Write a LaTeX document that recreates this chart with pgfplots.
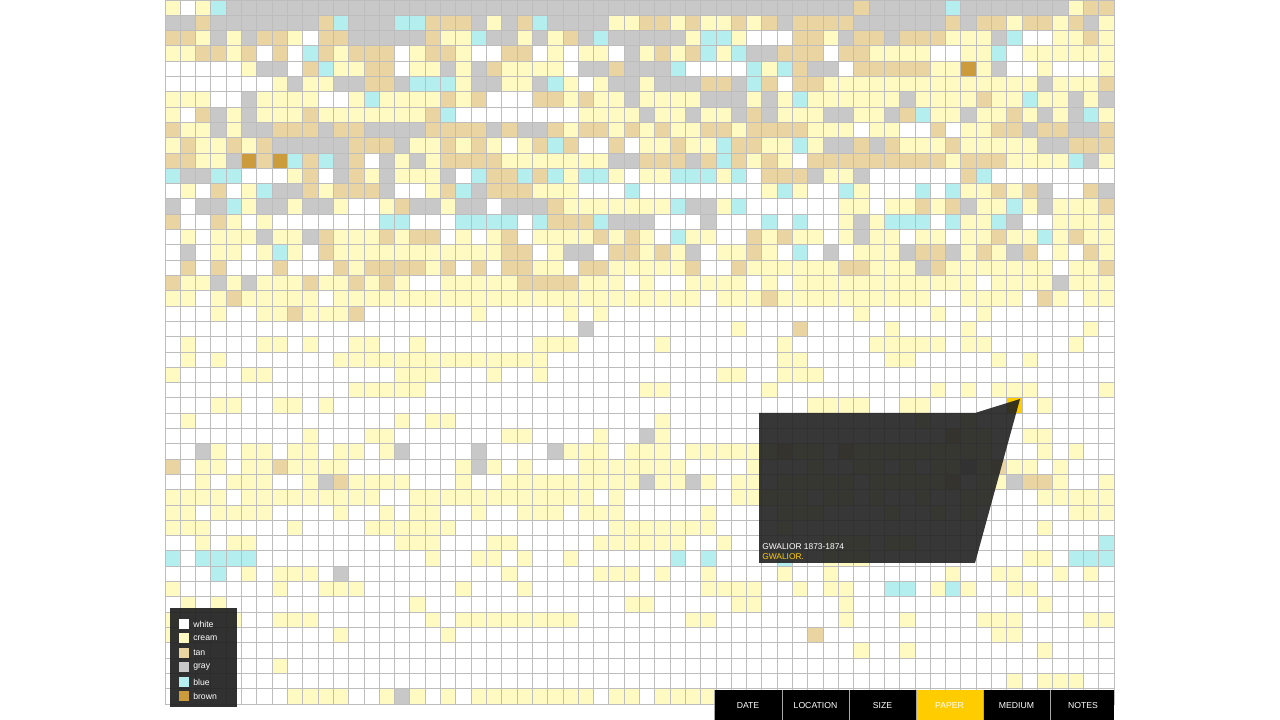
\documentclass[border=0pt]{standalone}
\usepackage{pgfplots}
\pgfplotsset{compat=1.18}
\usepackage{pgfplotstable}
\usepackage{fontspec}
\setmainfont{Liberation Sans}
\definecolor{cwhite}{HTML}{FFFFFF}
\definecolor{ccream}{HTML}{FFF9C2}
\definecolor{ctan}{HTML}{EAD4A2}
\definecolor{cgray}{HTML}{C8C8C8}
\definecolor{cblue}{HTML}{B4EEEE}
\definecolor{cbrown}{HTML}{CC9C3C}
\definecolor{chl}{HTML}{FFCC00}
\definecolor{gridc}{HTML}{BDBDBD}
\definecolor{panel}{HTML}{222222}

% 0 white, 1 cream, 2 tan, 3 gray, 4 blue, 5 brown, 6 selected
\pgfplotstableread[header=false]{
1 0 1 4 3 3 3 3 3 3 3 3 3 3 3 3 3 3 3 3 3 3 3 3 3 3 3 3 3 3 3 3 3 3 3 3 3 3 3 3 3 3 3 3 3 2 3 3 3 3 3 4 3 3 3 3 3 3 3 1 2 2
3 3 2 3 3 3 3 3 3 3 2 4 3 3 3 4 4 2 2 2 3 1 3 2 4 3 3 3 3 1 1 2 2 1 2 1 1 2 1 2 3 2 2 2 2 3 3 3 3 3 3 2 3 2 2 1 2 2 1 2 3 1
2 2 1 3 1 3 2 2 1 0 2 2 3 3 3 3 3 2 1 1 4 3 3 1 3 1 2 3 4 3 3 3 3 3 1 4 4 1 0 0 0 2 2 1 3 2 2 3 2 2 2 1 1 1 3 4 0 0 1 1 2 1
1 1 2 2 1 2 0 2 0 4 2 1 2 2 2 0 1 2 2 1 0 0 2 2 0 1 0 1 1 0 3 1 2 1 2 4 1 4 3 3 2 2 2 0 2 2 1 1 1 1 0 0 1 1 4 0 1 1 1 1 1 1
0 0 0 0 0 1 3 3 0 2 4 1 1 2 2 0 1 1 3 1 3 2 1 1 1 1 0 3 3 2 3 3 3 4 0 0 0 0 4 1 4 2 3 3 0 2 2 2 2 2 1 1 5 1 3 0 0 1 0 0 0 1
0 0 0 0 0 0 0 1 3 1 1 3 3 2 2 3 4 4 4 1 3 3 1 1 3 4 1 0 1 3 3 1 3 3 3 2 2 3 4 2 0 2 2 1 1 1 1 1 1 1 1 1 1 1 1 1 1 3 1 1 1 2
1 1 1 0 0 3 1 1 1 1 0 0 1 4 1 1 1 1 2 1 2 0 0 0 2 2 1 2 1 1 3 1 1 1 1 3 3 3 1 3 1 4 1 1 1 1 1 1 3 1 1 1 1 2 1 1 4 1 1 3 1 3
1 0 2 3 1 3 1 1 1 2 1 1 1 1 1 1 1 2 4 0 0 0 0 0 0 0 0 1 1 1 1 3 1 1 3 1 1 3 2 3 1 1 1 3 3 1 1 3 2 4 1 1 3 1 1 2 1 3 1 3 4 1
2 1 1 3 1 3 3 2 2 2 3 2 2 3 3 3 3 2 2 2 2 3 2 3 3 2 1 2 2 1 2 1 2 1 1 2 2 1 2 2 2 2 1 1 1 0 1 1 0 0 2 0 1 1 2 2 3 2 2 3 3 2
1 2 1 1 2 1 2 3 3 3 3 3 2 2 2 3 1 1 2 1 2 1 0 1 2 4 2 0 0 2 0 1 1 2 1 1 4 2 2 1 1 4 1 3 3 2 3 2 1 1 1 2 1 1 1 1 1 3 3 2 2 2
2 2 1 1 3 5 2 5 4 2 4 3 2 0 3 1 3 1 2 2 2 2 1 1 1 1 1 1 1 3 3 2 2 2 3 2 4 2 1 2 1 0 2 2 2 2 2 2 2 2 2 1 2 2 2 1 1 1 1 4 3 1
4 3 3 4 4 0 0 0 1 2 0 3 2 1 3 1 1 1 3 0 4 2 2 4 2 4 1 4 4 1 0 1 1 4 4 4 1 4 0 2 2 2 3 1 1 3 0 0 0 0 0 0 2 4 0 0 0 0 0 0 0 0
0 1 0 2 0 1 4 3 3 2 1 2 2 2 3 0 0 1 2 4 3 2 2 2 1 1 1 0 0 0 4 0 0 0 0 0 0 0 0 1 4 1 0 0 4 1 0 0 0 4 0 4 1 1 2 1 2 3 0 0 2 3
3 0 3 3 4 1 3 3 1 3 3 1 0 0 1 2 3 3 1 3 3 0 3 3 3 2 1 1 1 1 1 1 1 4 3 3 1 4 0 0 0 0 0 0 1 1 0 1 1 2 1 2 3 1 1 4 1 3 1 1 1 2
2 0 0 2 1 0 1 0 0 0 0 0 0 0 4 4 0 0 0 4 4 4 4 0 4 2 2 2 4 3 3 3 0 0 0 3 0 0 0 4 0 4 0 0 1 3 1 4 4 4 0 4 1 1 4 3 0 0 1 1 1 1
0 1 0 1 1 1 3 1 1 3 2 1 1 1 2 1 2 2 0 1 0 1 2 0 1 1 1 1 2 1 2 1 0 4 1 1 0 0 2 1 2 1 1 0 1 3 1 1 0 1 1 0 1 1 2 1 1 4 1 2 1 1
0 3 0 1 1 0 1 4 1 0 2 1 1 1 1 1 1 1 1 1 1 1 2 2 0 1 3 3 0 2 2 1 2 1 3 0 1 1 2 1 0 4 0 3 0 1 1 1 3 2 2 3 1 2 1 3 2 0 1 0 2 1
0 2 0 2 0 0 0 2 0 0 0 2 1 2 2 2 2 1 2 0 2 0 2 2 1 1 0 2 2 1 1 1 1 1 2 0 0 2 1 1 1 1 1 1 2 2 1 1 1 3 2 1 1 1 1 1 1 1 0 1 1 2
2 1 1 3 1 3 1 1 1 2 1 1 2 1 2 1 0 0 1 1 1 1 1 2 2 2 2 1 1 1 0 1 0 0 1 1 1 1 0 1 0 1 1 1 1 1 1 1 1 1 1 1 1 0 1 1 1 1 3 1 1 1
1 1 0 1 2 1 1 1 1 1 0 1 1 1 1 1 1 1 1 1 1 1 1 1 1 1 1 1 1 1 1 1 1 1 1 0 1 1 1 2 1 1 1 1 1 1 1 1 1 1 0 0 1 1 1 1 0 2 1 0 1 1
0 0 0 1 0 0 1 1 2 1 1 1 2 0 0 0 0 0 0 0 1 0 0 0 0 0 1 0 1 0 0 0 0 0 0 0 0 0 0 0 0 0 0 0 0 1 0 0 0 0 1 0 0 1 0 0 0 0 0 0 0 0
0 0 0 0 0 0 0 0 0 0 0 0 0 0 0 0 0 0 0 0 0 0 0 0 0 0 0 3 0 0 0 0 0 0 0 0 0 1 0 0 0 2 0 0 0 0 0 1 0 0 0 0 1 0 0 0 0 0 0 0 1 0
0 1 0 0 0 0 1 1 0 1 0 0 1 1 0 0 1 0 0 0 0 0 0 0 1 1 1 0 0 0 0 0 1 0 0 0 0 0 0 0 1 0 0 0 0 0 1 1 1 1 1 0 1 1 0 0 0 0 0 1 0 0
0 1 0 1 0 0 0 0 0 0 0 1 1 1 1 1 1 1 1 1 1 1 1 1 1 0 0 0 0 0 0 0 0 0 0 0 0 0 0 0 1 1 0 0 0 0 0 1 1 0 0 0 0 0 1 0 1 0 0 0 0 0
1 0 0 0 0 1 1 0 0 0 0 0 0 0 0 1 1 1 0 0 0 1 0 0 1 0 0 0 0 0 0 0 0 0 0 0 1 1 0 0 1 1 1 0 0 0 0 0 0 0 0 0 0 0 0 0 0 0 0 0 0 0
0 0 0 0 0 0 0 0 0 0 0 0 1 1 1 1 1 0 0 0 0 0 0 0 0 0 0 0 0 0 0 1 1 0 0 0 0 0 0 1 0 0 0 0 0 0 0 0 0 0 1 0 1 0 1 1 1 0 0 0 0 1
0 0 0 1 1 0 0 1 1 0 1 0 0 0 0 0 0 0 0 0 0 0 0 0 0 0 0 0 0 0 0 0 0 0 0 0 0 0 0 0 0 0 1 1 1 1 0 0 1 1 0 0 0 0 0 6 0 1 0 0 0 0
0 1 0 0 0 0 0 0 0 0 0 0 0 0 0 1 0 1 1 0 0 0 0 0 0 0 0 0 0 0 0 0 1 0 0 0 0 0 0 0 0 0 0 0 0 0 0 0 0 1 0 0 1 0 0 0 0 0 0 0 0 0
0 0 0 0 0 0 0 0 0 1 0 0 0 1 1 0 0 0 0 0 0 0 1 1 0 0 0 0 1 0 0 3 1 0 0 0 0 0 0 0 0 0 0 0 0 0 0 0 0 0 0 2 1 1 0 0 1 1 0 0 0 0
0 0 3 1 0 1 1 0 1 1 0 1 1 0 1 3 0 0 0 0 3 0 0 0 0 3 1 1 1 0 1 1 1 0 1 1 1 1 1 1 2 1 1 0 2 1 1 1 1 1 1 1 1 1 0 0 0 1 0 1 0 0
2 0 1 1 0 1 1 2 1 1 1 1 0 0 0 0 0 0 0 1 3 1 0 1 0 0 0 1 1 1 1 1 1 1 0 0 0 0 1 0 0 0 1 0 0 1 1 0 1 0 1 1 3 1 2 1 1 0 1 0 0 0
0 0 1 0 1 1 1 0 0 1 3 2 1 1 1 1 0 0 0 1 0 0 1 1 1 1 1 1 1 1 1 3 1 1 3 1 0 1 1 0 1 1 1 1 1 0 1 1 1 1 1 2 0 1 1 3 2 2 1 0 0 1
1 1 1 1 0 1 1 1 1 1 1 1 1 1 0 0 1 1 1 1 1 1 1 1 1 1 1 1 0 1 0 0 0 0 0 0 0 1 1 1 1 1 0 1 1 0 1 0 0 1 0 0 1 1 0 0 0 1 1 1 1 1
1 1 0 1 1 1 1 0 0 0 0 1 0 0 1 0 1 1 0 0 1 0 0 1 1 1 0 1 1 1 0 0 0 0 0 1 0 0 0 0 1 1 1 0 0 0 0 1 0 0 1 0 1 0 0 0 0 0 0 1 1 1
1 1 1 0 0 0 0 0 1 0 0 0 0 1 1 1 1 1 1 0 0 0 0 0 0 0 0 0 0 1 1 1 1 1 1 1 0 0 0 0 1 0 0 0 0 0 0 0 0 0 0 0 0 0 0 0 0 1 0 0 0 0
0 0 1 0 1 1 0 0 0 0 0 0 0 0 0 1 1 1 0 0 0 1 1 0 0 0 0 0 1 1 1 1 1 1 0 0 1 0 0 0 0 0 0 1 1 1 0 1 1 0 0 0 0 0 0 0 0 0 0 0 0 4
4 0 4 4 4 4 0 0 0 0 0 0 0 0 0 0 0 1 0 0 1 1 0 1 0 0 1 0 0 0 0 0 0 4 0 4 0 0 0 0 4 0 0 1 1 1 0 0 0 0 0 0 0 0 0 0 1 1 0 4 4 4
0 0 0 4 0 1 0 1 1 1 0 3 0 0 0 0 0 0 0 0 0 0 1 0 0 0 0 0 1 1 1 0 1 0 0 1 0 0 0 0 1 0 0 1 0 0 0 0 0 0 0 1 0 0 1 1 0 0 1 0 1 0
1 0 0 0 0 0 0 1 0 0 1 1 1 0 0 0 0 0 0 1 0 0 0 1 0 0 0 0 0 0 0 0 0 0 0 1 1 1 1 0 0 1 0 1 1 0 0 4 4 0 1 4 1 0 0 1 1 0 0 0 0 0
0 1 0 1 0 0 0 0 0 0 0 0 0 0 0 0 1 0 0 0 0 0 0 0 0 0 0 0 0 0 1 1 0 0 0 0 0 1 1 0 0 0 0 0 1 0 0 0 0 0 0 0 0 0 0 0 0 1 0 0 0 0
1 0 0 0 1 0 0 1 1 1 0 0 0 0 0 0 0 1 0 1 1 1 1 1 1 1 1 0 0 0 0 0 0 0 1 1 0 0 0 0 0 0 0 0 1 0 0 0 1 0 0 0 0 1 1 1 0 0 0 0 1 1
1 0 0 0 0 0 0 0 0 0 0 1 0 0 0 0 0 0 1 0 0 0 0 0 0 0 0 0 0 0 0 0 0 0 0 0 0 0 0 0 0 0 2 0 0 0 0 0 0 0 0 0 0 0 1 1 0 0 0 0 0 0
0 0 0 0 0 0 0 0 0 0 0 0 0 0 0 0 0 0 0 0 0 0 0 0 0 0 0 0 0 0 0 0 0 0 0 0 0 0 0 0 0 0 0 0 0 1 0 0 1 0 0 0 0 0 0 0 0 1 0 0 0 0
0 0 0 0 0 0 0 1 0 0 0 0 0 0 0 0 0 0 0 0 0 0 0 0 0 0 0 0 0 0 0 0 0 0 0 0 0 0 0 0 0 0 0 0 0 0 0 0 0 0 0 0 0 0 0 0 0 0 0 0 0 0
0 0 0 0 0 0 0 0 0 0 0 0 0 0 0 0 0 0 0 0 0 0 0 0 0 0 0 0 0 0 0 0 0 0 0 0 0 0 0 0 0 0 0 0 0 0 0 0 0 0 0 0 0 0 0 1 0 1 1 1 0 0
0 0 0 0 0 0 0 0 1 1 1 1 0 0 1 3 1 0 1 0 1 1 1 1 1 1 1 1 0 1 1 0 1 1 1 1 0 0 0 0 0 0 0 0 0 0 0 0 0 0 0 0 0 0 0 0 0 0 0 0 0 0
}\grid

\begin{document}
\begin{tikzpicture}
\path[use as bounding box] (0pt,0pt) rectangle (960pt,540pt);
\fill[white] (0pt,0pt) rectangle (960pt,540pt);
\begin{axis}[
  at={(123.75pt,540pt)}, anchor=north west,
  scale only axis, width=711.75pt, height=528pt,
  xmin=-0.5, xmax=61.5, ymin=-0.5, ymax=45.5, y dir=reverse,
  hide axis, clip=false,
]
\pgfplotsinvokeforeach{0,...,61}{%
  \addplot[scatter, only marks, scatter src=explicit symbolic,
    mark size=5.74pt, line width=0.7pt,
    scatter/classes={
      0={mark=square*, draw=gridc, fill=cwhite},
      1={mark=square*, draw=gridc, fill=ccream},
      2={mark=square*, draw=gridc, fill=ctan},
      3={mark=square*, draw=gridc, fill=cgray},
      4={mark=square*, draw=gridc, fill=cblue},
      5={mark=square*, draw=gridc, fill=cbrown},
      6={mark=square*, draw=gridc, fill=chl}}]
    table[x expr=#1, y expr=\coordindex, meta index=#1] {\grid};%
}
\end{axis}

\begin{scope}[shift={(0pt,540pt)}, x=0.75pt, y=-0.75pt]
% tooltip
\fill[panel, fill opacity=0.9] (759,413) -- (975,413) -- (1020,399) -- (975,563) -- (759,563) -- cycle;
\node[anchor=west, inner sep=0pt, text=white, font=\fontsize{6.3pt}{7pt}\selectfont] at (762,547) {GWALIOR 1873-1874};
\node[anchor=west, inner sep=0pt, text=chl, font=\fontsize{6.3pt}{7pt}\selectfont] at (762,557) {GWALIOR.};

% legend
\fill[panel, fill opacity=0.93] (170,608) rectangle (237,707);
\foreach \c/\t/\yy in {cwhite/white/624, ccream/cream/638.5, ctan/tan/653, cgray/gray/667.5, cblue/blue/682, cbrown/brown/696.5}{
  \fill[\c] (179,\yy-5) rectangle (189,\yy+5);
  \node[anchor=west, inner sep=0pt, text=white, font=\fontsize{6.5pt}{7pt}\selectfont] at (193,\yy) {\t};
}

% tabs
\fill[black] (714,690) rectangle (1114,720);
\fill[chl] (916,690) rectangle (983,720);
\foreach \xx in {714.5,782,849,916,983,1050}{
  \draw[gray!70, line width=0.6pt] (\xx,690) -- (\xx,720);
}
\foreach \xx/\t in {748/DATE, 815.5/LOCATION, 882.5/SIZE, 949.5/PAPER, 1016.5/MEDIUM, 1083/NOTES}{
  \node[inner sep=0pt, text=white, font=\fontsize{6.5pt}{7pt}\selectfont] at (\xx,706) {\t};
}
\end{scope}
\end{tikzpicture}
\end{document}
